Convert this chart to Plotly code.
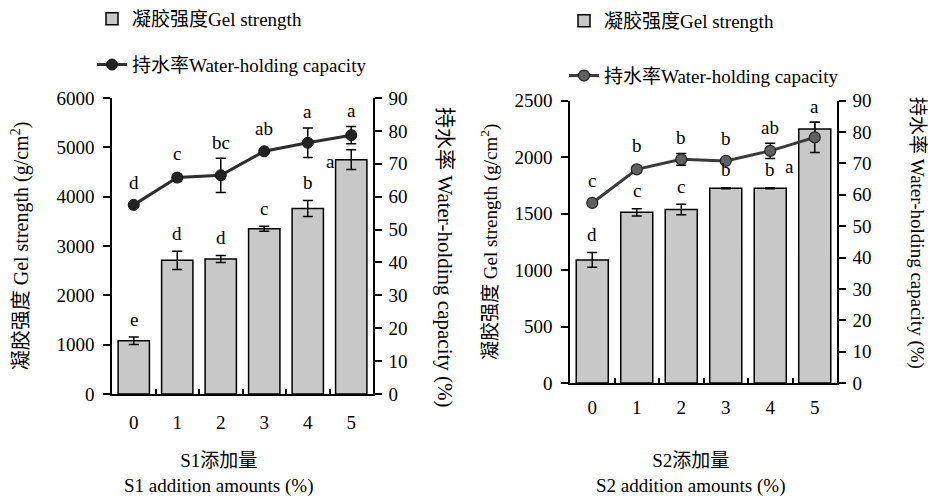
import plotly.graph_objects as go

# ---------------- data ----------------
categories = [0, 1, 2, 3, 4, 5]
tick_labels = ["0", "1", "2", "3", "4", "5"]

s1_gel = [1080, 2710, 2735, 3350, 3760, 4750]
s1_gel_err = [75, 185, 70, 50, 160, 200]
s1_whc = [57.5, 65.8, 66.5, 73.8, 76.4, 78.7]
s1_whc_err = [0.5, 1.0, 5.2, 0.5, 4.5, 2.6]
s1_gel_letters = ["e", "d", "d", "c", "b", "a"]
s1_whc_letters = ["d", "c", "bc", "ab", "a", "a"]

s2_gel = [1090, 1512, 1536, 1725, 1725, 2250]
s2_gel_err = [65, 32, 47, 4, 4, 60]
s2_whc = [57.4, 68.1, 71.3, 70.8, 74.0, 78.3]
s2_whc_err = [0.5, 1.0, 1.9, 0.5, 2.4, 4.8]
s2_gel_letters = ["d", "c", "c", "b", "b", "a"]
s2_whc_letters = ["c", "b", "b", "b", "ab", "a"]

FONT = "Liberation Serif, Times New Roman, Noto Sans CJK SC, serif"
W, H = 928, 497

def px_x(p):
    return p / W

def px_y(p):
    return 1 - p / H

fig = go.Figure()

bar_style = dict(marker=dict(color="#c8c8c8", line=dict(color="black", width=1.5)),
                 width=0.72)
err_style = dict(type="data", color="black", thickness=1.5, width=5)

# Left panel
fig.add_trace(go.Bar(x=categories, y=s1_gel, name="凝胶强度Gel strength",
                     error_y=dict(array=s1_gel_err, **err_style),
                     xaxis="x", yaxis="y", legend="legend", legendgroup="a",
                     **bar_style))
fig.add_trace(go.Scatter(x=categories, y=s1_whc, name="持水率Water-holding capacity",
                         mode="lines+markers",
                         line=dict(color="#2e2e2e", width=3),
                         marker=dict(size=11, color="#222222", line=dict(color="#111111", width=1)),
                         error_y=dict(array=s1_whc_err, **err_style),
                         xaxis="x", yaxis="y2", legend="legend", legendgroup="b"))

# Right panel
fig.add_trace(go.Bar(x=categories, y=s2_gel, name="凝胶强度Gel strength",
                     error_y=dict(array=s2_gel_err, **err_style),
                     xaxis="x2", yaxis="y3", legend="legend2", legendgroup="c",
                     **bar_style))
fig.add_trace(go.Scatter(x=categories, y=s2_whc, name="持水率Water-holding capacity",
                         mode="lines+markers",
                         line=dict(color="#3a3a3a", width=3),
                         marker=dict(size=11, color="#606060", line=dict(color="#222222", width=1.2)),
                         error_y=dict(array=s2_whc_err, **err_style),
                         xaxis="x2", yaxis="y4", legend="legend2", legendgroup="d"))

annotations = []

def letters(xs, vals, errs, labs, yref, xref, line=False, last_special=None):
    for i, (x, v, e, t) in enumerate(zip(xs, vals, errs, labs)):
        if last_special is not None and i == len(xs) - 1:
            annotations.append(dict(x=x, y=v, xref=xref, yref=yref, text=t, showarrow=False,
                                    xanchor="center", yanchor="middle",
                                    xshift=last_special[0], yshift=last_special[1],
                                    font=dict(size=19, family=FONT, color="black")))
            continue
        if line:
            shift = 21 if e < 1.5 else 16
        else:
            shift = 18
        annotations.append(dict(x=x, y=v + e, xref=xref, yref=yref, text=t, showarrow=False,
                                xanchor="center", yanchor="middle", yshift=shift,
                                font=dict(size=19, family=FONT, color="black")))

letters(categories, s1_gel, s1_gel_err, s1_gel_letters, "y", "x", last_special=(-21, -2))
letters(categories, s1_whc, s1_whc_err, s1_whc_letters, "y2", "x", line=True)
letters(categories, s2_gel, s2_gel_err, s2_gel_letters, "y3", "x2", last_special=(-25, -38))
letters(categories, s2_whc, s2_whc_err, s2_whc_letters, "y4", "x2", line=True)

# axis titles placed as text
annotations.append(dict(x=px_x(445), y=px_y(257), xref="paper", yref="paper",
                        xanchor="center", yanchor="middle",
                        text="持水率 Water-holding capacity (%)", textangle=90, showarrow=False,
                        font=dict(size=21, family=FONT, color="black")))
annotations.append(dict(x=px_x(917), y=px_y(233), xref="paper", yref="paper",
                        xanchor="center", yanchor="middle",
                        text="持水率 Water-holding capacity (%)", textangle=90, showarrow=False,
                        font=dict(size=19, family=FONT, color="black")))
annotations.append(dict(x=px_x(218), y=px_y(473), xref="paper", yref="paper",
                        xanchor="center", yanchor="middle",
                        text="S1添加量<br>S1 addition amounts (%)", showarrow=False,
                        font=dict(size=19, family=FONT, color="black")))
annotations.append(dict(x=px_x(690), y=px_y(473), xref="paper", yref="paper",
                        xanchor="center", yanchor="middle",
                        text="S2添加量<br>S2 addition amounts (%)", showarrow=False,
                        font=dict(size=19, family=FONT, color="black")))

axis_common = dict(showline=True, linecolor="black", linewidth=1.5, showgrid=False,
                   zeroline=False, automargin=False,
                   tickfont=dict(size=19, family=FONT, color="black"))

xaxis_common = dict(range=[-0.5, 5.5], tickvals=categories, ticktext=tick_labels, ticks="",
                    minor=dict(tickvals=[0.5, 1.5, 2.5, 3.5, 4.5], ticks="inside", ticklen=5,
                               tickwidth=1.5, tickcolor="black"),
                    **axis_common)

ytick = dict(ticks="outside", ticklen=7, tickwidth=1.5, tickcolor="black")

fig.update_layout(
    width=W, height=H,
    margin=dict(l=0, r=0, t=0, b=0, autoexpand=False),
    paper_bgcolor="white", plot_bgcolor="rgba(0,0,0,0)",
    font=dict(family=FONT, color="black"),
    barmode="overlay",
    xaxis=dict(domain=[px_x(112), px_x(373)], anchor="y", ticklabelstandoff=10, **xaxis_common),
    yaxis=dict(domain=[px_y(394), px_y(98)], anchor="x", range=[0, 6000], dtick=1000,
               ticklabelstandoff=5, **ytick,
               title=dict(text="凝胶强度 Gel strength (g/cm<sup>2</sup>)", standoff=22,
                          font=dict(size=20, family=FONT, color="black")),
               **axis_common),
    yaxis2=dict(domain=[px_y(394), px_y(98)], anchor="x", overlaying="y", side="right",
                range=[0, 90], dtick=10, ticklabelstandoff=3, **ytick,
                **axis_common),
    xaxis2=dict(domain=[px_x(570), px_x(837)], anchor="y3", ticklabelstandoff=6, **xaxis_common),
    yaxis3=dict(domain=[px_y(383), px_y(100.7)], anchor="x2", range=[0, 2500], dtick=500,
                ticklabelstandoff=5, **ytick,
                title=dict(text="凝胶强度 Gel strength (g/cm<sup>2</sup>)", standoff=12,
                           font=dict(size=19, family=FONT, color="black")),
                **axis_common),
    yaxis4=dict(domain=[px_y(383), px_y(100.7)], anchor="x2", overlaying="y3", side="right",
                range=[0, 90], dtick=10, ticklabelstandoff=3, **ytick,
                **axis_common),
    legend=dict(x=px_x(92), y=px_y(0), xanchor="left", yanchor="top", tracegroupgap=18,
                bgcolor="rgba(0,0,0,0)", font=dict(size=19, family=FONT, color="black")),
    legend2=dict(x=px_x(564), y=px_y(2), xanchor="left", yanchor="top", tracegroupgap=27,
                 bgcolor="rgba(0,0,0,0)", font=dict(size=19, family=FONT, color="black")),
    annotations=annotations,
)

fig.write_html("out.html", config={"displayModeBar": False},
               post_script="document.body.style.margin='0px';")
